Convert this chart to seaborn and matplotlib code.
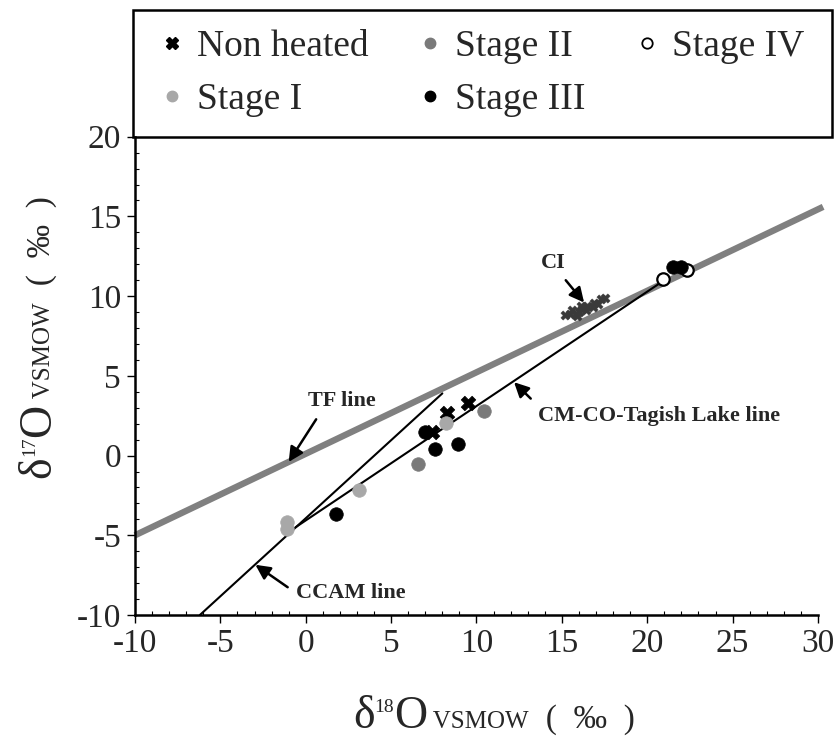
import matplotlib
matplotlib.use("Agg")
import matplotlib.pyplot as plt
import seaborn as sns
import pandas as pd
from matplotlib.lines import Line2D
from matplotlib.patches import Rectangle
from matplotlib.ticker import MultipleLocator
from matplotlib.transforms import IdentityTransform

# --- data (d18O, d17O in permil) ---
nonheated_d18 = [7.4, 8.3, 9.5]
nonheated_d17 = [1.5, 2.65, 3.3]
stage1_d18 = [-1.1, -1.1, 3.1, 8.2]
stage1_d17 = [-4.15, -4.6, -2.15, 2.05]
stage2_d18 = [6.55, 10.45]
stage2_d17 = [-0.5, 2.8]
stage3_d18 = [7.0, 7.55, 8.9, 1.8, 21.5, 22.0]
stage3_d17 = [1.45, 0.4, 0.75, -3.65, 11.85, 11.85]
stage4_d18 = [20.95, 22.3]
stage4_d17 = [11.05, 11.65]
ci_d18 = [15.2, 15.5, 15.8, 15.6, 16.0, 16.2, 16.4, 16.5, 16.8, 16.9, 17.1, 17.3, 17.5, 16.1, 15.9]
ci_d17 = [8.8, 8.9, 8.85, 9.1, 9.0, 9.2, 9.1, 9.4, 9.3, 9.6, 9.5, 9.8, 9.9, 9.35, 8.75]

tf_x = [-10.0, 30.3]
tf_y = [-5.0, 15.6]
ccam_x = [-6.2, 8.0]
ccam_y = [-10.0, 3.9]
cm_x = [-0.6, 21.0]
cm_y = [-4.5, 11.0]

groups = ["Non heated", "Stage I", "Stage II", "Stage III", "Stage IV"]

W, H = 837, 738
sns.set_theme(style="ticks")
plt.rcParams["font.family"] = ["Liberation Serif", "DejaVu Serif"]
plt.rcParams["axes.unicode_minus"] = False

fig = plt.figure(figsize=(W / 100, H / 100), dpi=100)
ax = fig.add_axes([135 / W, 123 / H, 683 / W, 478.3 / H])

# reference lines
ax.plot(tf_x, tf_y, color="#808080", lw=4.6, solid_capstyle="butt", clip_on=False, zorder=2)
ax.plot(ccam_x, ccam_y, color="black", lw=1.5, zorder=2)
ax.plot(cm_x, cm_y, color="black", lw=1.5, zorder=2)

# CI field
sns.scatterplot(x=ci_d18, y=ci_d17, ax=ax, marker="X", s=45, color="#3a3a3a",
                edgecolor="#3a3a3a", linewidth=0.3, legend=False, zorder=3)

# samples
df = pd.concat([
    pd.DataFrame({"d18": nonheated_d18, "d17": nonheated_d17, "grp": "Non heated"}),
    pd.DataFrame({"d18": stage1_d18, "d17": stage1_d17, "grp": "Stage I"}),
    pd.DataFrame({"d18": stage2_d18, "d17": stage2_d17, "grp": "Stage II"}),
    pd.DataFrame({"d18": stage4_d18, "d17": stage4_d17, "grp": "Stage IV"}),
    pd.DataFrame({"d18": stage3_d18, "d17": stage3_d17, "grp": "Stage III"}),
])
style = {
    "Non heated": dict(marker="X", fc="black", ec="black", s=110, lw=0.5),
    "Stage I": dict(marker="o", fc="#a8a8a8", ec="#a8a8a8", s=95, lw=0.5),
    "Stage II": dict(marker="o", fc="#7a7a7a", ec="#7a7a7a", s=95, lw=0.5),
    "Stage IV": dict(marker="o", fc="white", ec="black", s=80, lw=1.6),
    "Stage III": dict(marker="o", fc="black", ec="black", s=95, lw=0.5),
}
for g, sub in df.groupby("grp", sort=False):
    st = style[g]
    sns.scatterplot(data=sub, x="d18", y="d17", ax=ax, marker=st["marker"], s=st["s"],
                    color=st["fc"], edgecolor=st["ec"], linewidth=st["lw"], legend=False, zorder=4)


# annotations
def arw(rel):
    return dict(arrowstyle="-|>", color="black", lw=1.8, mutation_scale=22,
                shrinkA=4, shrinkB=0, relpos=rel)


afont = dict(fontsize=16, fontweight="bold")
ax.annotate("CI", xy=(16.3, 9.6), xytext=(14.5, 12.1), ha="center", va="center", arrowprops=arw((0.75, 0)), **afont)
ax.annotate("TF line", xy=(-1.0, -0.4), xytext=(2.1, 3.4), ha="center", va="center", arrowprops=arw((0.2, 0)), **afont)
ax.annotate("CM-CO-Tagish Lake line", xy=(12.2, 4.6), xytext=(13.6, 2.5), ha="left", va="center", arrowprops=arw((0, 1)), **afont)
ax.annotate("CCAM line", xy=(-2.95, -6.85), xytext=(-0.6, -8.6), ha="left", va="center", arrowprops=arw((0, 0.5)), **afont)

ax.set_xlim(-10, 30)
ax.set_ylim(-10, 20)
ax.xaxis.set_major_locator(MultipleLocator(5))
ax.yaxis.set_major_locator(MultipleLocator(5))
ax.xaxis.set_minor_locator(MultipleLocator(1))
ax.yaxis.set_minor_locator(MultipleLocator(1))
ax.tick_params(which="major", direction="out", length=6, width=1.0, labelsize=24, pad=4, color="black")
ax.tick_params(which="minor", direction="in", length=3, width=0.8, color="black")
for sp in ["top", "right"]:
    ax.spines[sp].set_visible(False)
for sp in ["left", "bottom"]:
    ax.spines[sp].set_linewidth(1.8)
    ax.spines[sp].set_color("black")
ax.set_xlabel("")
ax.set_ylabel("")

# legend box sitting on top of the axes
box = (133 / W, 1 - 137 / H, 699 / W, 127 / H)
fig.patches.append(Rectangle(box[:2], box[2], box[3], transform=fig.transFigure,
                             fill=False, ec="black", lw=1.8, zorder=5))
handles = [
    Line2D([], [], ls="none", marker="X", ms=8, mfc="black", mec="black"),
    Line2D([], [], ls="none", marker="o", ms=7.5, mfc="#a8a8a8", mec="#a8a8a8"),
    Line2D([], [], ls="none", marker="o", ms=7.5, mfc="#7a7a7a", mec="#7a7a7a"),
    Line2D([], [], ls="none", marker="o", ms=7.5, mfc="black", mec="black"),
    Line2D([], [], ls="none", marker="o", ms=7.5, mfc="white", mec="black", mew=1.3),
]
leg = fig.legend(handles, groups, loc="center", ncol=3, mode="expand",
                 bbox_to_anchor=box, fontsize=27, frameon=False, borderpad=0.75,
                 labelspacing=0.5, handlelength=0.6, handletextpad=0.35, borderaxespad=0)

# axis titles with mixed sizes
renderer = fig.canvas.get_renderer()


def draw_label(x0, y0, pieces, vertical=False):
    pos = y0 if vertical else x0
    for s, size, rise in pieces:
        if vertical:
            t = fig.text(x0 - rise, pos, s, fontsize=size, rotation=90, ha="left", va="baseline",
                         rotation_mode="anchor", transform=IdentityTransform())
            pos = t.get_window_extent(renderer).y1
        else:
            t = fig.text(pos, y0 + rise, s, fontsize=size, ha="left", va="baseline",
                         transform=IdentityTransform())
            pos = t.get_window_extent(renderer).x1


draw_label(353, H - 728, [("δ", 33, 0), ("18", 14, 16), ("O", 33, 0), (" VSMOW", 18, 0), ("  (  ‰  )", 24, 0)])
draw_label(50, H - 478, [("δ", 33, 0), ("17", 14, 16), ("O", 33, 0), (" VSMOW", 18, 0), ("  (  ‰  )", 24, 0)], vertical=True)

fig.savefig("out.png", dpi=100)
